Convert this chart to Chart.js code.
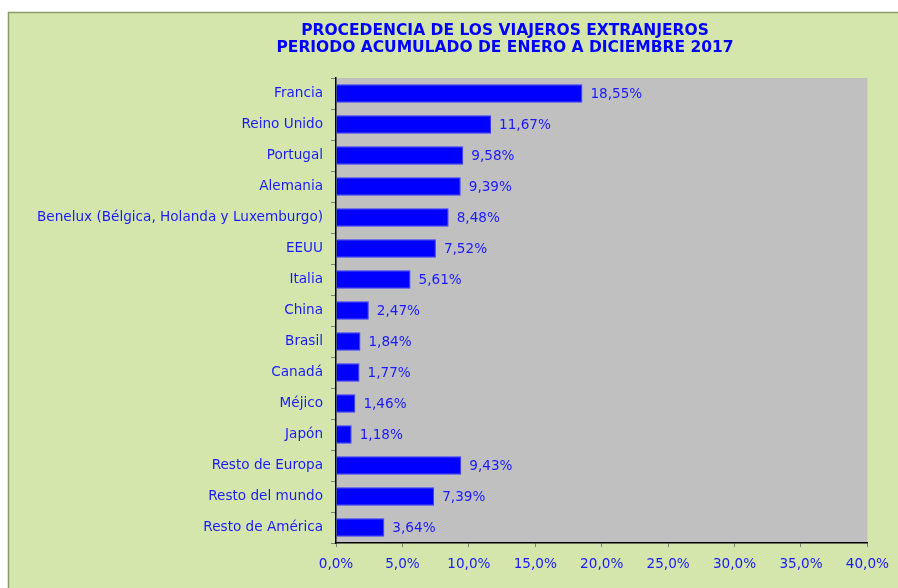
<!DOCTYPE html>
<html>
<head>
<meta charset="utf-8">
<script src="https://cdn.jsdelivr.net/npm/chart.js@4"></script>
<style>
  html, body { margin: 0; padding: 0; background: #fff; overflow: hidden; }
  #wrap { width: 898px; height: 588px; }
</style>
</head>
<body>
<div id="wrap"><canvas id="viajeros-chart"></canvas></div>
<script>
const paises = [
  'Francia', 'Reino Unido', 'Portugal', 'Alemania',
  'Benelux (Bélgica, Holanda y Luxemburgo)', 'EEUU', 'Italia', 'China',
  'Brasil', 'Canadá', 'Méjico', 'Japón',
  'Resto de Europa', 'Resto del mundo', 'Resto de América'
];
const porcentajes = [18.55, 11.67, 9.58, 9.39, 8.48, 7.52, 5.61, 2.47, 1.84, 1.77, 1.46, 1.18, 9.43, 7.39, 3.64];
const tituloLineas = ['PROCEDENCIA DE LOS VIAJEROS EXTRANJEROS', 'PERIODO ACUMULADO DE ENERO A DICIEMBRE 2017'];

const azul = '#1a1aff';
const fuente = '"DejaVu Sans", Verdana, sans-serif';
const fmt = v => v.toFixed(2).replace('.', ',') + '%';

// fondo verde, marco y area gris
const fondo = {
  id: 'fondo',
  beforeDraw(chart) {
    const { ctx, chartArea } = chart;
    ctx.save();
    ctx.fillStyle = '#ffffff';
    ctx.fillRect(0, 0, chart.width, chart.height);
    ctx.fillStyle = '#d4e6ac';
    ctx.fillRect(8, 12, chart.width - 8, chart.height - 12);
    ctx.strokeStyle = '#8c9a6c';
    ctx.lineWidth = 1.5;
    ctx.beginPath();
    ctx.moveTo(8.5, chart.height);
    ctx.lineTo(8.5, 12.5);
    ctx.lineTo(chart.width, 12.5);
    ctx.stroke();
    ctx.fillStyle = '#c0c0c0';
    ctx.fillRect(chartArea.left, chartArea.top, chartArea.right - chartArea.left, chartArea.bottom - chartArea.top);
    ctx.restore();
  }
};

const etiquetas = {
  id: 'etiquetas',
  afterDatasetsDraw(chart) {
    const { ctx } = chart;
    const meta = chart.getDatasetMeta(0);
    ctx.save();
    ctx.font = '13.6px ' + fuente;
    ctx.fillStyle = azul;
    ctx.textAlign = 'left';
    ctx.textBaseline = 'middle';
    meta.data.forEach((bar, i) => {
      ctx.fillText(fmt(porcentajes[i]), bar.x + 8, bar.y + 1);
    });
    ctx.font = 'bold 15.5px ' + fuente;
    ctx.textAlign = 'center';
    ctx.fillStyle = '#0000ff';
    ctx.fillText(tituloLineas[0], 505, 31);
    ctx.fillText(tituloLineas[1], 505, 48);
    ctx.restore();
  }
};

new Chart(document.getElementById('viajeros-chart'), {
  type: 'bar',
  data: {
    labels: paises,
    datasets: [{
      data: porcentajes,
      backgroundColor: '#0000ff',
      borderColor: '#3a3aff',
      borderWidth: 1,
      barPercentage: 0.6,
      categoryPercentage: 1
    }]
  },
  options: {
    indexAxis: 'y',
    responsive: true,
    maintainAspectRatio: false,
    animation: false,
    layout: { padding: { left: 0, right: 30, top: 78, bottom: 0 } },
    plugins: {
      legend: { display: false },
      tooltip: { enabled: false }
    },
    scales: {
      x: {
        min: 0,
        max: 40,
        afterFit(scale) { scale.height = 45; },
        ticks: {
          stepSize: 5,
          color: azul,
          padding: 9,
          font: { family: fuente, size: 13.6 },
          callback: v => v.toFixed(1).replace('.', ',') + '%'
        },
        grid: { drawOnChartArea: false, tickLength: 4, color: '#808080' },
        border: { color: '#000000', width: 1.5 }
      },
      y: {
        afterFit(scale) { scale.width = 336; },
        ticks: {
          color: azul,
          padding: 8,
          font: { family: fuente, size: 13.6 }
        },
        grid: { drawOnChartArea: false, tickLength: 5, color: '#808080', offset: true },
        border: { color: '#000000', width: 1.5 }
      }
    }
  },
  plugins: [fondo, etiquetas]
});
</script>
</body>
</html>
